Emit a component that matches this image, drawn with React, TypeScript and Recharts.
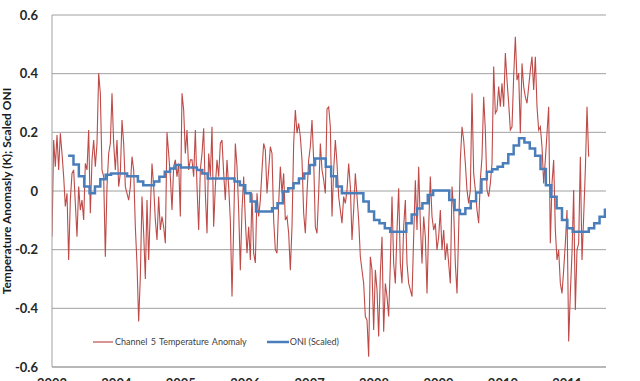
import React from 'react';
import { LineChart, Line, XAxis, YAxis, CartesianGrid, Legend } from 'recharts';

const yearTicks = [2003, 2004, 2005, 2006, 2007, 2008, 2009, 2010, 2011];
const yTicks = [-0.6, -0.4, -0.2, 0, 0.2, 0.4, 0.6];

const channel5StartYear = 2003;
const channel5StepDays = 9.45;
const channel5Values = [
  -0.156, 0.174, 0.083, 0.191, 0.072, 0.197, 0.128, 0.049, -0.053, -0.008,
  -0.235, -0.031, 0.060, 0.072, -0.042, -0.156, 0.015, -0.065, -0.031, -0.099,
  0.094, 0.072, 0.208, -0.076, 0.106, 0.174, 0.083, 0.162, 0.401, 0.333,
  0.072, 0.049, -0.224, 0.015, 0.128, 0.162, 0.333, 0.162, 0.072, 0.174,
  0.015, 0.060, 0.242, 0.162, 0.015, -0.008, -0.031, 0.015, 0.117, 0.072,
  -0.122, -0.250, -0.445, -0.292, -0.019, -0.144, -0.300, -0.031, -0.235, -0.065,
  0.094, 0.015, -0.099, -0.167, -0.019, -0.133, -0.087, -0.122, -0.178, 0.200,
  0.128, 0.049, -0.065, 0.083, 0.106, 0.049, 0.094, -0.087, 0.333, 0.276,
  0.128, 0.208, 0.072, 0.106,
  0.106, 0.049, 0.208, 0.015, -0.133, 0.072, 0.128, 0.214, -0.008, -0.144,
  0.128, 0.049, 0.219, -0.122, 0.015, 0.106, 0.049, 0.162, 0.174, 0.060,
  -0.031, 0.106, 0.015, -0.099, -0.360, -0.122, 0.162, 0.083, -0.065, -0.270,
  -0.065, 0.049, -0.099, -0.212, -0.122, -0.235, -0.008, -0.212, -0.245, -0.008,
  -0.087, -0.031, 0.072, 0.162, 0.140, -0.008, 0.072, 0.151, 0.128, -0.099,
  -0.200, -0.212, -0.042, 0.083, -0.008, 0.060, -0.099, -0.087, -0.144, -0.270,
  -0.122, 0.162, 0.276, 0.197, 0.231, 0.185, 0.106, -0.076, -0.144, -0.008,
  0.106, 0.151, 0.242, 0.106, -0.122, -0.144, -0.008, 0.162, 0.072, 0.038,
  -0.008, 0.280, 0.287, 0.219,
  -0.087, 0.072, 0.174, 0.094, -0.019, -0.065, -0.110, -0.019, -0.042, 0.003,
  0.094, 0.015, -0.167, -0.065, 0.060, -0.019, -0.099, -0.224, -0.270, -0.315,
  -0.428, -0.440, -0.565, -0.224, -0.269, -0.474, -0.269, -0.337, -0.496, -0.281,
  -0.156, -0.480, -0.315, -0.360, -0.428, -0.247, -0.019, -0.247, -0.315, -0.133,
  0.009, -0.247, -0.315, -0.122, -0.031, -0.247, -0.315, -0.337, -0.360, -0.156,
  0.037, -0.133, 0.083, -0.110, -0.247, -0.087, -0.156, -0.349, -0.122, 0.049,
  -0.087, -0.133, -0.110, -0.201, -0.156, -0.065, -0.201, -0.133, -0.235, -0.178,
  -0.247, -0.315, 0.015, -0.065, -0.247, -0.349, -0.133, 0.106, 0.219, 0.174,
  0.094, 0.003, -0.042, 0.003,
  0.333, 0.060, 0.003, -0.065, -0.110, 0.037, 0.117, 0.321, 0.208, 0.003,
  -0.019, 0.026, 0.094, 0.424, 0.265, 0.276, 0.356, 0.287, 0.367, 0.287,
  0.470, 0.378, 0.299, 0.208, 0.219, 0.390, 0.526, 0.378, 0.401, 0.197,
  0.435, 0.356, 0.321, 0.299, 0.356, 0.412, 0.458, 0.344, 0.458, 0.287,
  0.208, 0.219, 0.151, 0.026, 0.106, 0.197, 0.287, -0.178, 0.026, 0.106,
  -0.133, -0.235, -0.201, -0.315, -0.349, -0.269, -0.178, -0.065, -0.513, -0.349,
  -0.212, 0.003, -0.406, -0.201, -0.178, 0.117, -0.235, -0.087, 0.072, 0.287,
  0.117,
];

const oniStartYear = 2003.25;
const oniValues = [
  0.12, 0.09, 0.05, 0.015, -0.008, 0.015, 0.04, 0.055, 0.06, 0.06,
  0.06, 0.05, 0.05, 0.032, 0.02, 0.02, 0.032, 0.049, 0.066, 0.077,
  0.089, 0.08, 0.08, 0.08, 0.072, 0.06, 0.043, 0.043, 0.043, 0.043,
  0.043, 0.032, 0.02, -0.008, -0.036, -0.07, -0.07, -0.07, -0.059, -0.042,
  -0.002, 0.009, 0.026, 0.043, 0.06, 0.089, 0.111, 0.111, 0.083, 0.05,
  0.015, -0.008, -0.008, -0.008, -0.008, -0.036, -0.07, -0.099, -0.11, -0.127,
  -0.139, -0.139, -0.139, -0.11, -0.08, -0.06, -0.042, -0.014, 0.002, 0.002,
  0.002, -0.031, -0.065, -0.078, -0.059, -0.035, -0.005, 0.04, 0.066, 0.074,
  0.083, 0.095, 0.125, 0.155, 0.18, 0.165, 0.145, 0.12, 0.075, 0.02,
  -0.02, -0.059, -0.099, -0.127, -0.139, -0.139, -0.139, -0.127, -0.11, -0.088,
  -0.06,
];

const RED = '#BE4B48';
const BLUE = '#4A7EBB';
const GRID = '#a0a0a0';
const FONT = 'Lato, "Open Sans", sans-serif';

const channel5Data = channel5Values.map((v, i) => ({
  t: channel5StartYear + (i * channel5StepDays) / 365.25,
  v,
}));
const oniData = oniValues.map((v, i) => ({ t: oniStartYear + i / 12, v }));

const YTick = (p: any) => {
  const v = p.payload.value;
  const label = Math.abs(v) < 1e-9 ? '0' : v.toFixed(1);
  return (
    <text x={38} y={p.y} dy={4.5} textAnchor="end" fontFamily={FONT} fontWeight={700} fontSize={13} fill="#262626">
      {label}
    </text>
  );
};

const XTick = (p: any) => (
  <text x={p.x} y={388} textAnchor="middle" fontFamily={FONT} fontWeight={700} fontSize={13} fill="#262626">
    {p.payload.value}
  </text>
);

const LegendContent = () => (
  <div style={{ display: 'flex', alignItems: 'center', fontFamily: FONT, fontSize: 9, color: '#404040', whiteSpace: 'nowrap' }}>
    <svg width={20} height={6} style={{ marginRight: 2 }}>
      <line x1={0} y1={3} x2={20} y2={3} stroke={RED} strokeWidth={1.2} />
    </svg>
    <span style={{ wordSpacing: 1 }}>Channel 5 Temperature Anomaly</span>
    <span style={{ display: 'inline-block', width: 20 }} />
    <svg width={22} height={6} style={{ marginRight: 1 }}>
      <line x1={0} y1={3} x2={22} y2={3} stroke={BLUE} strokeWidth={2.5} />
    </svg>
    <span>ONI (Scaled)</span>
  </div>
);

export default function App() {
  return (
    <div style={{ position: 'fixed', left: 0, top: 0, width: 640, height: 381, overflow: 'hidden', background: '#fff' }}>
      <LineChart width={640} height={400} margin={{ top: 15, right: 34, left: 0, bottom: 3 }}>
        <CartesianGrid vertical={false} stroke={GRID} strokeWidth={1} />
        <XAxis
          dataKey="t"
          type="number"
          domain={[2003, 2011.6]}
          ticks={yearTicks}
          allowDataOverflow
          height={30}
          axisLine={{ stroke: GRID }}
          tickLine={false}
          tick={XTick}
          interval={0}
        />
        <YAxis
          type="number"
          domain={[-0.6, 0.6]}
          ticks={yTicks}
          width={52}
          axisLine={{ stroke: GRID }}
          tickLine={false}
          tick={YTick}
          interval={0}
          label={{
            content: () => (
              <text
                transform="translate(11, 191) rotate(-90)"
                textAnchor="middle"
                fontFamily={FONT}
                fontWeight={700}
                fontSize={12}
                fill="#1a1a1a"
              >
                Temperature Anomasly (K); Scaled ONI
              </text>
            ),
          }}
        />
        <Legend
          layout="horizontal"
          verticalAlign="middle"
          align="center"
          content={LegendContent}
          wrapperStyle={{ position: 'absolute', left: 93, top: 336, width: 280, height: 12 }}
        />
        <Line
          data={channel5Data}
          dataKey="v"
          type="linear"
          stroke={RED}
          strokeWidth={1.1}
          dot={false}
          isAnimationActive={false}
          name="Channel 5 Temperature Anomaly"
        />
        <Line
          data={oniData}
          dataKey="v"
          type="stepAfter"
          stroke={BLUE}
          strokeWidth={2.5}
          dot={false}
          isAnimationActive={false}
          name="ONI (Scaled)"
        />
      </LineChart>
    </div>
  );
}
